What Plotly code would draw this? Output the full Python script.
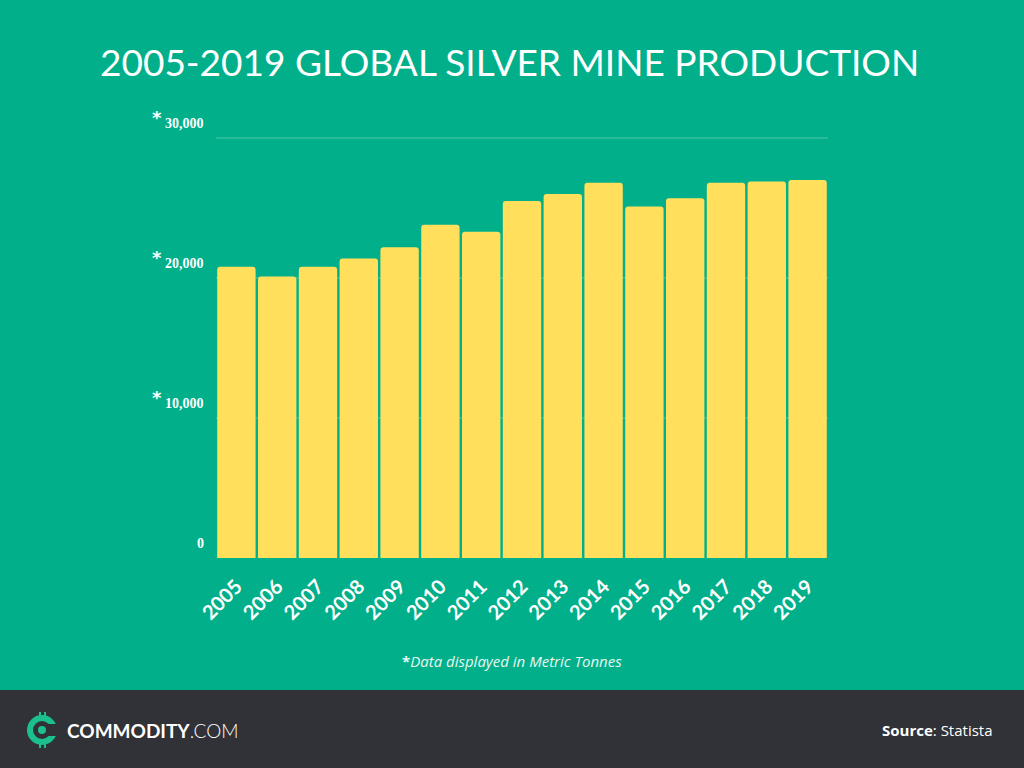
import plotly.graph_objects as go

years = ["2005", "2006", "2007", "2008", "2009", "2010", "2011", "2012",
         "2013", "2014", "2015", "2016", "2017", "2018", "2019"]
production = [20800, 20100, 20800, 21400, 22200, 23800, 23300, 25500,
              26000, 26800, 25100, 25700, 26800, 26900, 27000]
y_ticks = [0, 10000, 20000, 30000]
y_tick_labels = ["0", "10,000", "20,000", "30,000"]

BG = "#01B08A"
BAR = "#FFDF5C"
FOOT = "#313237"

W, H = 1024, 768
L, R, T, B = 216, 828, 136, 558
Y_TOP = 30000 + 2 / 0.014  # a little headroom so the 30,000 gridline is drawn


def px(xp):
    return (xp - L) / (R - L)


def py(yp):
    return (B - yp) / (B - T)


fig = go.Figure()
fig.add_trace(go.Bar(x=years, y=production, marker=dict(color=BAR, line=dict(width=0)),
                     hoverinfo="x+y"))

annotations = []
# Title
annotations.append(dict(text="2005-2019 GLOBAL SILVER MINE PRODUCTION", xref="paper", yref="paper",
                        x=px(509), y=py(61), xanchor="center", yanchor="middle", showarrow=False,
                        font=dict(family="Lato", size=37, color="white")))
# y tick labels (shifted above gridlines), asterisks separately
for v, lab in zip(y_ticks, y_tick_labels):
    annotations.append(dict(text="<b>" + lab + "</b>", xref="paper", yref="y", x=px(206), y=v,
                            yshift=15, xanchor="right", yanchor="middle", showarrow=False,
                            font=dict(family="Liberation Serif", size=14, color="white")))
    if v != 0:
        annotations.append(dict(text="<b>*</b>", xref="paper", yref="y", x=px(157), y=v,
                                yshift=21, xanchor="center", yanchor="middle", showarrow=False,
                                font=dict(family="DejaVu Sans", size=18, color="white")))
# Footnote
annotations.append(dict(text="<b>*</b><i>Data displayed in Metric Tonnes</i>", xref="paper", yref="paper",
                        x=px(512), y=py(661), xanchor="center", yanchor="middle", showarrow=False,
                        font=dict(family="Open Sans", size=15, color="#E6F7F2")))
# Footer text
annotations.append(dict(text="<b>COMMODITY</b><span style='font-weight:300'>.COM</span>",
                        xref="paper", yref="paper", x=px(65), y=py(730), xanchor="left",
                        yanchor="middle", showarrow=False,
                        font=dict(family="Lato", size=19, color="white")))
annotations.append(dict(text="<b>Source</b>: Statista", xref="paper", yref="paper",
                        x=px(995), y=py(730), xanchor="right", yanchor="middle", showarrow=False,
                        font=dict(family="Open Sans", size=15, color="white")))

shapes = []
# Footer band
shapes.append(dict(type="rect", xref="paper", yref="paper", x0=px(-5), x1=px(W + 5),
                   y0=py(690), y1=py(H + 5), fillcolor=FOOT, line=dict(width=0), layer="below"))
# Logo: C ring
cx, cy, r = 42, 730, 12
shapes.append(dict(type="circle", xref="paper", yref="paper", x0=px(cx - r), x1=px(cx + r),
                   y0=py(cy + r), y1=py(cy - r), fillcolor="rgba(0,0,0,0)",
                   line=dict(color="#1CC08F", width=6)))
# cut opening on right side
shapes.append(dict(type="rect", xref="paper", yref="paper", x0=px(cx + 4), x1=px(cx + 18),
                   y0=py(cy + 6), y1=py(cy - 6), fillcolor=FOOT, line=dict(width=0)))
# center dot
shapes.append(dict(type="circle", xref="paper", yref="paper", x0=px(cx - 4), x1=px(cx + 4),
                   y0=py(cy + 4), y1=py(cy - 4), fillcolor="#1CC08F", line=dict(width=0)))
# vertical ticks top and bottom
for dx in (-2, 3):
    shapes.append(dict(type="line", xref="paper", yref="paper", x0=px(cx + dx), x1=px(cx + dx),
                       y0=py(cy - r - 6), y1=py(cy - r + 1), line=dict(color="#1CC08F", width=2)))
    shapes.append(dict(type="line", xref="paper", yref="paper", x0=px(cx + dx), x1=px(cx + dx),
                       y0=py(cy + r - 1), y1=py(cy + r + 6), line=dict(color="#1CC08F", width=2)))

fig.update_layout(
    width=W, height=H,
    margin=dict(l=L, r=W - R, t=T, b=H - B, pad=0),
    paper_bgcolor=BG, plot_bgcolor=BG,
    bargap=0.06,
    barcornerradius=3,
    showlegend=False,
    annotations=annotations,
    shapes=shapes,
    xaxis=dict(tickangle=-45, tickfont=dict(family="Lato", size=20, color="white"),
               showgrid=False, zeroline=False, showline=False, ticks="",
               ticklabelstandoff=12),
    yaxis=dict(range=[0, Y_TOP], tickvals=y_ticks, showticklabels=False,
               gridcolor="#27BB99", gridwidth=2, zeroline=False, showline=False),
)
fig.update_xaxes(tickprefix="<b>", ticksuffix="</b>")

fig.write_html("out.html", config={"displayModeBar": False},
               post_script="document.body.style.margin='0';document.body.style.overflow='hidden';")
